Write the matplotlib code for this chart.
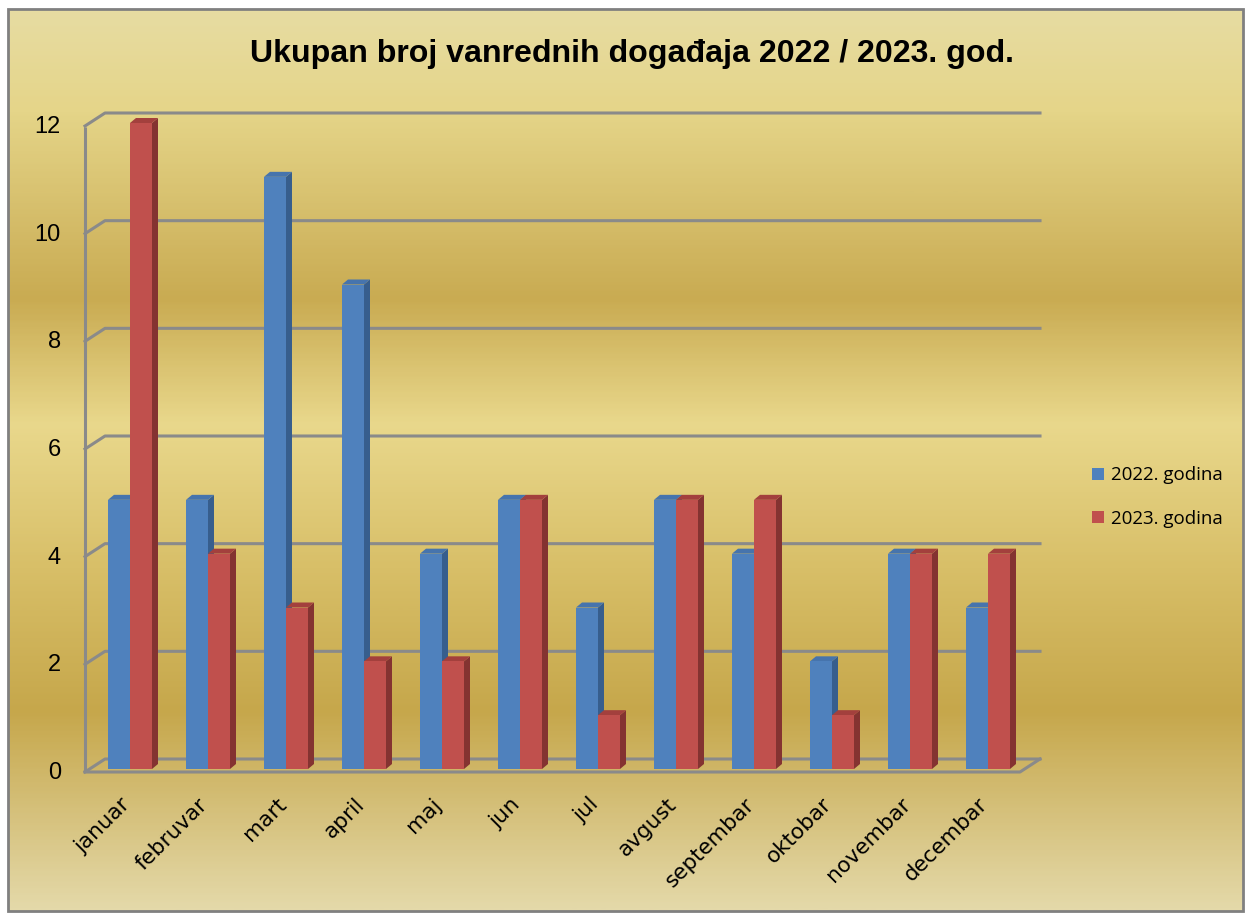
import numpy as np
import matplotlib
matplotlib.use("Agg")
import matplotlib.pyplot as plt
from matplotlib.patches import Polygon, Rectangle, Patch
from matplotlib.colors import LinearSegmentedColormap

# ---------------- data ----------------
months = ["januar", "februvar", "mart", "april", "maj", "jun", "jul",
          "avgust", "septembar", "oktobar", "novembar", "decembar"]
series_2022 = [5, 5, 11, 9, 4, 5, 3, 5, 4, 2, 4, 3]
series_2023 = [12, 4, 3, 2, 2, 5, 1, 5, 5, 1, 4, 4]
series_names = ["2022. godina", "2023. godina"]
y_ticks = [0, 2, 4, 6, 8, 10, 12]
title = "Ukupan broj vanrednih događaja 2022 / 2023. god."

# ---------------- styles ----------------
W, H = 1245, 913
front_cols = ["#4f81bd", "#c0504d"]
side_cols = ["#375e8d", "#843331"]
top_cols = ["#4674ad", "#a3403d"]
grid_col = "#8a8a8a"

fig = plt.figure(figsize=(W / 100, H / 100), dpi=100)

# background gradient
bg = fig.add_axes([0, 0, 1, 1], zorder=-10)
bg.set_xlim(0, W)
bg.set_ylim(H, 0)
bg.axis("off")
stops = [(0.0, "#e7dca2"), (0.11, "#e5d589"), (0.32, "#c9ab52"),
         (0.46, "#e9d88c"), (0.62, "#d8bf68"), (0.78, "#c6a74b"),
         (1.0, "#e4d9a9")]
cmap = LinearSegmentedColormap.from_list("gold", stops)
grad = np.linspace(0, 1, 400).reshape(-1, 1)
bg.imshow(grad, cmap=cmap, aspect="auto", extent=[8, 1243, 911, 9], zorder=0)
bg.add_patch(Rectangle((8, 9), 1235, 902, fill=False, ec="#808080", lw=2, zorder=1))

# main axes, mapping value plane of the bars
x_left_px, x_right_px = 85, 1040
center0_px, step_px = 130, 78
y0_px, y12_px = 769, 123
ax = fig.add_axes([x_left_px / W, (H - y0_px) / H,
                   (x_right_px - x_left_px) / W, (y0_px - y12_px) / H])
xl = ((x_left_px - center0_px) / step_px, (x_right_px - center0_px) / step_px)
ax.set_xlim(*xl)
ax.set_ylim(0, 12)
ax.axis("off")
ux = step_px            # px per x unit
uy = (y0_px - y12_px) / 12.0  # px per y unit

def px2x(p):
    return p / ux

def px2y(p):
    return p / uy

front_dy = -px2y(3)
back_dy = px2y(10)
back_x0 = (105 - center0_px) / step_px
front_x0 = xl[0]
floor_front_x1 = (1020 - center0_px) / step_px
ymax = 12

# walls / gridlines
lw_g = 2.2
ax.plot([front_x0, front_x0], [front_dy, ymax + front_dy - px2y(1)], color=grid_col,
        lw=lw_g, clip_on=False, zorder=1, solid_capstyle="butt")
for v in y_ticks:
    ax.plot([front_x0, back_x0, xl[1]], [v + front_dy, v + back_dy, v + back_dy],
            color=grid_col, lw=lw_g, clip_on=False, zorder=1)
    ax.text(px2x(61 - center0_px), v + front_dy - px2y(1), str(v), ha="right", va="center",
            fontsize=17, family="Liberation Sans", color="black")
# floor front edge
ax.plot([front_x0, floor_front_x1, xl[1]], [front_dy, front_dy, back_dy],
        color=grid_col, lw=lw_g, clip_on=False, zorder=1)

# bars
bw = 22 / step_px
ddx = px2x(6)
ddy = px2y(5)
xs = np.arange(len(months))
for k, vals in enumerate([series_2022, series_2023]):
    lefts = xs - bw + k * bw
    z = 3 + k
    ax.bar(lefts, vals, width=bw, align="edge", color=front_cols[k],
           edgecolor="none", zorder=z + 0.2, clip_on=False)
    for xl_, v in zip(lefts, vals):
        xr = xl_ + bw
        side = Polygon([(xr, 0), (xr + ddx, ddy), (xr + ddx, v + ddy), (xr, v)],
                       closed=True, fc=side_cols[k], ec="none", zorder=z + 0.1,
                       clip_on=False)
        top = Polygon([(xl_, v), (xl_ + ddx, v + ddy), (xr + ddx, v + ddy), (xr, v)],
                      closed=True, fc=top_cols[k], ec="none", zorder=z + 0.1,
                      clip_on=False)
        ax.add_patch(side)
        ax.add_patch(top)

# x labels
for i, m in enumerate(months):
    ax.text(i - 0.04, -0.6, m, rotation=45, ha="right", va="center",
            rotation_mode="anchor", fontsize=15.5, family="DejaVu Sans", color="black")

# title
fig.text(632 / W, 1 - 54 / H, title, ha="center", va="center", fontsize=23.1,
         fontweight="bold", family="Liberation Sans", color="black")

# legend
handles = [Patch(fc=front_cols[0], ec="none"), Patch(fc=front_cols[1], ec="none")]
fig.legend(handles, series_names, loc="center left",
           bbox_to_anchor=(1092 / W, 1 - 497 / H), frameon=False,
           prop={"family": "Open Sans", "size": 13.5}, handlelength=0.65,
           handleheight=0.65, handletextpad=0.35, labelspacing=1.35, borderpad=0,
           borderaxespad=0)

fig.savefig("out.png", dpi=100)
